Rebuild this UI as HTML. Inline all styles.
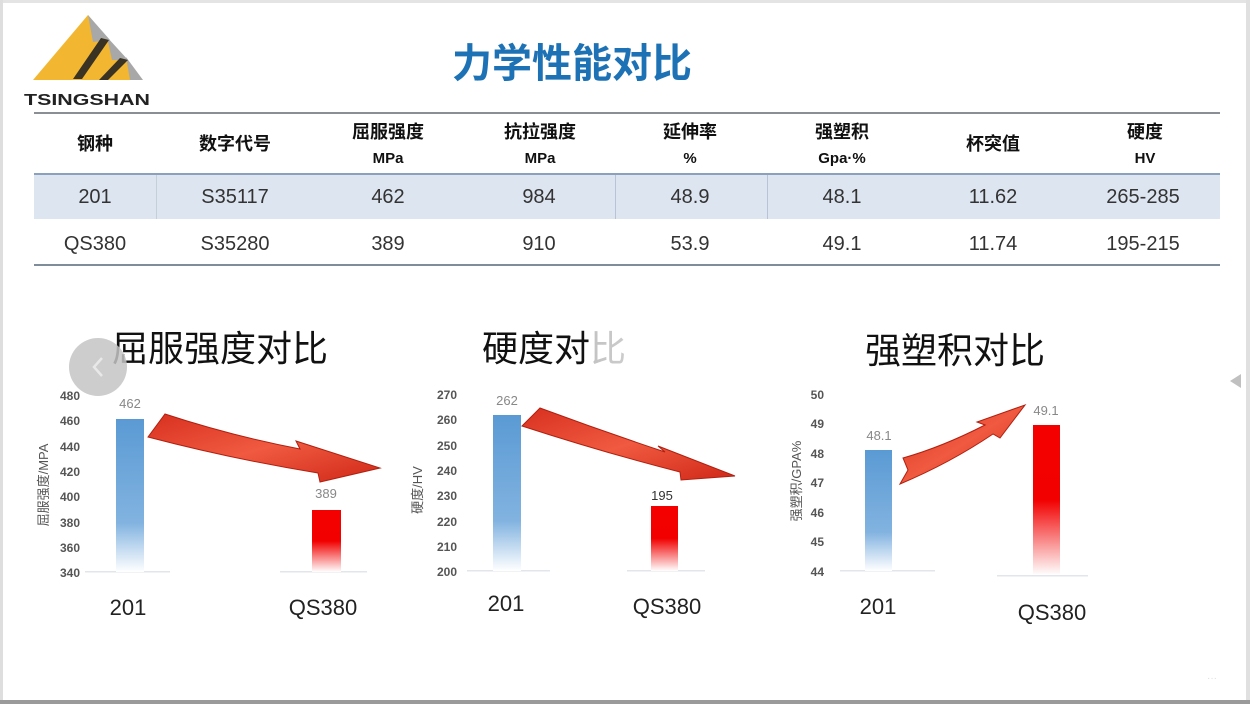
<!DOCTYPE html>
<html><head><meta charset="utf-8"><style>
html,body{margin:0;padding:0;background:#fff;}
svg{display:block;}
text{font-family:"Liberation Sans","Noto Sans CJK SC",sans-serif;}
.cjk{font-family:"Liberation Sans","Noto Sans CJK SC",sans-serif;}
</style></head><body>
<svg width="1250" height="704" viewBox="0 0 1250 704" xmlns="http://www.w3.org/2000/svg">
<defs>
<linearGradient id="gb" x1="0" y1="0" x2="0" y2="1">
<stop offset="0" stop-color="#5a9ad4"/><stop offset="0.68" stop-color="#82b3e0"/><stop offset="1" stop-color="#ffffff"/></linearGradient>
<linearGradient id="gr" x1="0" y1="0" x2="0" y2="1">
<stop offset="0" stop-color="#f40000"/><stop offset="0.5" stop-color="#f20000"/><stop offset="1" stop-color="#ffffff"/></linearGradient>
<linearGradient id="ga" x1="0" y1="0" x2="1" y2="1">
<stop offset="0" stop-color="#d83020"/><stop offset="0.5" stop-color="#f05a40"/><stop offset="1" stop-color="#d02818"/></linearGradient>
<linearGradient id="gt" x1="0" y1="0" x2="1" y2="0">
<stop offset="0" stop-color="#111"/><stop offset="0.45" stop-color="#111"/><stop offset="0.55" stop-color="#bbb"/><stop offset="1" stop-color="#ccc"/></linearGradient>
</defs>
<rect x="0" y="0" width="1250" height="704" fill="#fff"/>
<!-- frame -->
<rect x="0" y="0" width="1250" height="3" fill="#e4e4e4"/>
<rect x="0" y="0" width="3" height="704" fill="#dedede"/>
<rect x="1246" y="0" width="4" height="704" fill="#e0e0e0"/>
<rect x="0" y="700" width="1250" height="4" fill="#9a9a9a"/>

<!-- logo -->
<polygon points="33,80 88,15 142,80" fill="#f2b630"/>
<polygon points="88,15 110,40 93,42" fill="#a8a8a8"/>
<polygon points="107,37 128,60 112,60" fill="#a8a8a8"/>
<polygon points="126,57 143,80 130,80" fill="#a8a8a8"/>
<polygon points="101,38 109,40 82,79 73,79" fill="#3a3222"/>
<polygon points="120,58 128,60 108,80 99,80" fill="#3a3222"/>
<text x="24" y="105" font-size="16" font-weight="bold" fill="#222" textLength="126" lengthAdjust="spacingAndGlyphs">TSINGSHAN</text>

<!-- title -->
<text x="572" y="77" text-anchor="middle" font-size="40" font-weight="bold" fill="#1d72b5" class="cjk">力学性能对比</text>

<!-- table -->
<rect x="34" y="174" width="1186" height="45" fill="#dde5f0"/>
<rect x="34" y="112" width="1186" height="2" fill="#8a8f95"/>
<rect x="34" y="173" width="1186" height="2" fill="#8aa0bc"/>
<rect x="34" y="264" width="1186" height="2" fill="#7f8c99"/>
<rect x="156" y="175" width="1" height="44" fill="#c5cfdc"/>
<rect x="615" y="175" width="1" height="44" fill="#b8c4d4"/>
<rect x="767" y="175" width="1" height="44" fill="#b8c4d4"/>

<g font-size="18" font-weight="bold" fill="#111" text-anchor="middle" class="cjk">
<text x="95" y="150">钢种</text>
<text x="235" y="150">数字代号</text>
<text x="388" y="138">屈服强度</text>
<text x="540" y="138">抗拉强度</text>
<text x="690" y="138">延伸率</text>
<text x="842" y="138">强塑积</text>
<text x="993" y="150">杯突值</text>
<text x="1145" y="138">硬度</text>
</g>
<g font-size="15" font-weight="bold" fill="#111" text-anchor="middle">
<text x="388" y="163">MPa</text>
<text x="540" y="163">MPa</text>
<text x="690" y="163">%</text>
<text x="842" y="163">Gpa·%</text>
<text x="1145" y="163">HV</text>
</g>
<g font-size="20" fill="#333" text-anchor="middle">
<text x="95" y="203">201</text><text x="235" y="203">S35117</text><text x="388" y="203">462</text><text x="539" y="203">984</text><text x="690" y="203">48.9</text><text x="842" y="203">48.1</text><text x="993" y="203">11.62</text><text x="1143" y="203">265-285</text>
<text x="95" y="250">QS380</text><text x="235" y="250">S35280</text><text x="388" y="250">389</text><text x="539" y="250">910</text><text x="690" y="250">53.9</text><text x="842" y="250">49.1</text><text x="993" y="250">11.74</text><text x="1143" y="250">195-215</text>
</g>

<!-- chart titles -->
<g font-size="36" fill="#111" class="cjk">
<text x="220" y="361" text-anchor="middle">屈服强度对比</text>
<text x="482" y="361">硬度对<tspan fill="url(#gt)">比</tspan></text>
<text x="955" y="363" text-anchor="middle">强塑积对比</text>
</g>

<!-- chart 1 -->
<g font-size="12" font-weight="bold" fill="#555" text-anchor="end">
<text x="80" y="400">480</text><text x="80" y="425">460</text><text x="80" y="451">440</text><text x="80" y="476">420</text><text x="80" y="501">400</text><text x="80" y="527">380</text><text x="80" y="552">360</text><text x="80" y="577">340</text>
</g>
<text transform="translate(48,485) rotate(-90)" font-size="13" fill="#555" text-anchor="middle" class="cjk">屈服强度/MPA</text>
<rect x="85" y="571" width="85" height="1.5" fill="#e2e6ea"/>
<rect x="280" y="571" width="87" height="1.5" fill="#e2e6ea"/>
<rect x="116" y="419" width="28" height="153" fill="url(#gb)"/>
<rect x="312" y="510" width="29" height="62" fill="url(#gr)"/>
<text x="130" y="408" font-size="13" fill="#888" text-anchor="middle">462</text>
<text x="326" y="498" font-size="13" fill="#888" text-anchor="middle">389</text>
<text x="128" y="615" font-size="22" fill="#222" text-anchor="middle">201</text>
<text x="323" y="615" font-size="22" fill="#222" text-anchor="middle">QS380</text>
<path d="M148,437 L165,414 Q232,436 300,449 L296,441 L380,468 L320,482 L318,473 Q232,459 148,437 Z" fill="url(#ga)" stroke="#b02010" stroke-width="1"/>

<!-- chart 2 -->
<g font-size="12" font-weight="bold" fill="#555" text-anchor="end">
<text x="457" y="399">270</text><text x="457" y="424">260</text><text x="457" y="450">250</text><text x="457" y="475">240</text><text x="457" y="500">230</text><text x="457" y="526">220</text><text x="457" y="551">210</text><text x="457" y="576">200</text>
</g>
<text transform="translate(422,490) rotate(-90)" font-size="13" fill="#555" text-anchor="middle" class="cjk">硬度/HV</text>
<rect x="467" y="570" width="83" height="1.5" fill="#e2e6ea"/>
<rect x="627" y="570" width="78" height="1.5" fill="#e2e6ea"/>
<rect x="493" y="415" width="28" height="156" fill="url(#gb)"/>
<rect x="651" y="506" width="27" height="65" fill="url(#gr)"/>
<text x="507" y="405" font-size="13" fill="#888" text-anchor="middle">262</text>
<text x="662" y="500" font-size="13" fill="#333" text-anchor="middle">195</text>
<text x="506" y="611" font-size="22" fill="#222" text-anchor="middle">201</text>
<text x="667" y="614" font-size="22" fill="#222" text-anchor="middle">QS380</text>
<path d="M522,426 L540,408 Q602,431 665,452 L658,446 L735,476 L681,480 L680,472 Q602,452 522,426 Z" fill="url(#ga)" stroke="#b02010" stroke-width="1"/>

<!-- chart 3 -->
<g font-size="12" font-weight="bold" fill="#555" text-anchor="end">
<text x="824" y="399">50</text><text x="824" y="428">49</text><text x="824" y="458">48</text><text x="824" y="487">47</text><text x="824" y="517">46</text><text x="824" y="546">45</text><text x="824" y="576">44</text>
</g>
<text transform="translate(801,481) rotate(-90)" font-size="13" fill="#555" text-anchor="middle" class="cjk">强塑积/GPA%</text>
<rect x="840" y="570" width="95" height="1.5" fill="#e2e6ea"/>
<rect x="997" y="575" width="91" height="1.5" fill="#e2e6ea"/>
<rect x="865" y="450" width="27" height="121" fill="url(#gb)"/>
<rect x="1033" y="425" width="27" height="150" fill="url(#gr)"/>
<text x="879" y="440" font-size="13" fill="#888" text-anchor="middle">48.1</text>
<text x="1046" y="415" font-size="13" fill="#888" text-anchor="middle">49.1</text>
<text x="878" y="614" font-size="22" fill="#222" text-anchor="middle">201</text>
<text x="1052" y="620" font-size="22" fill="#222" text-anchor="middle">QS380</text>
<path d="M903,458 Q942,447 985,425 L977,422 L1025,405 L1000,438 L993,434 Q950,463 900,484 L908,470 Z" fill="url(#ga)" stroke="#b02010" stroke-width="1"/>

<!-- nav overlays -->
<circle cx="98" cy="367" r="29" fill="#c4c4c4" opacity="0.85"/>
<polyline points="102,358 94,367 102,376" fill="none" stroke="#e8e8e8" stroke-width="2.5"/>
<polygon points="1230,381 1241,374 1241,388" fill="#c0c0c0"/>
<text x="1212" y="681" font-size="10" fill="#ddd" text-anchor="middle">···</text>
</svg>
</body></html>
